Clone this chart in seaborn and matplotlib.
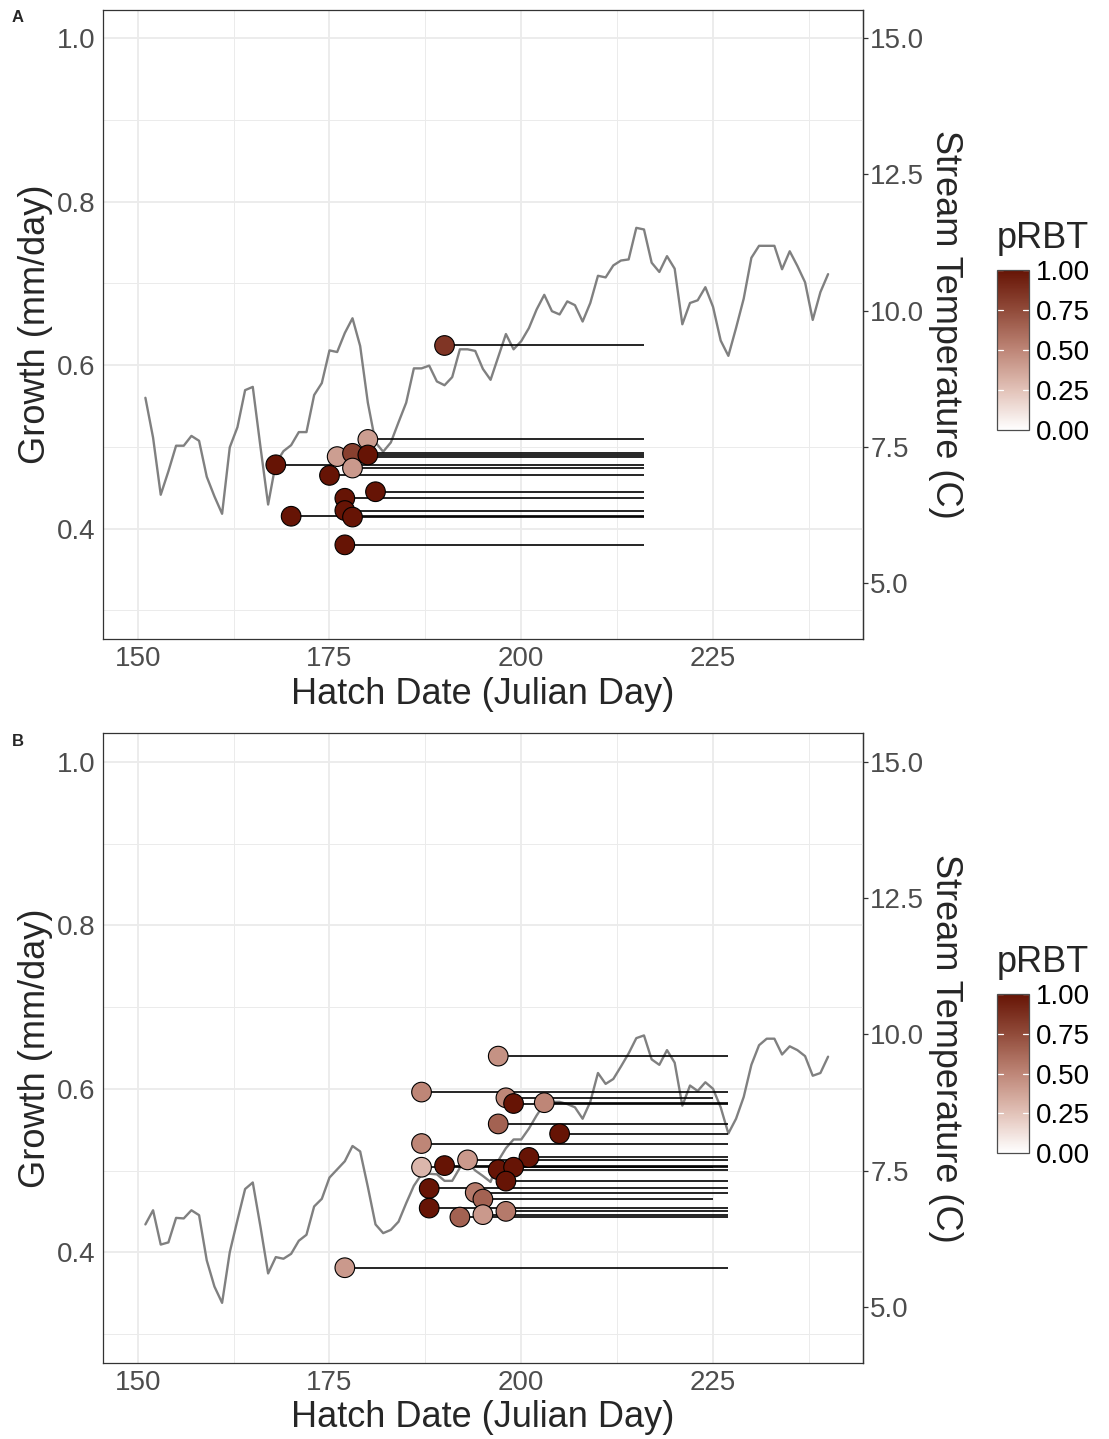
import numpy as np
import pandas as pd
import matplotlib
matplotlib.use("Agg")
import matplotlib.pyplot as plt
import matplotlib as mpl
import seaborn as sns
from matplotlib.colors import LinearSegmentedColormap, Normalize

# ---------------- data ----------------
days = list(range(151, 241))

temp_a = [8.40, 7.67, 6.62, 7.05, 7.52, 7.52, 7.70, 7.61, 6.95, 6.59,
          6.27, 7.49, 7.86, 8.54, 8.60, 7.50, 6.44, 7.20, 7.42, 7.53,
          7.77, 7.77, 8.45, 8.67, 9.27, 9.24, 9.59, 9.86, 9.35, 8.31,
          7.58, 7.41, 7.58, 7.95, 8.31, 8.94, 8.94, 8.99, 8.70, 8.63,
          8.78, 9.29, 9.29, 9.26, 8.93, 8.73, 9.15, 9.57, 9.29, 9.44,
          9.68, 10.02, 10.29, 9.99, 9.93, 10.17, 10.10, 9.80, 10.14, 10.64,
          10.61, 10.83, 10.92, 10.94, 11.52, 11.49, 10.88, 10.71, 11.00, 10.77,
          9.75, 10.14, 10.19, 10.43, 10.07, 9.45, 9.17, 9.68, 10.22, 10.97,
          11.19, 11.19, 11.19, 10.76, 11.09, 10.82, 10.52, 9.83, 10.34, 10.67]

temp_b = [6.51, 6.77, 6.14, 6.18, 6.63, 6.62, 6.77, 6.68, 5.85, 5.37,
          5.07, 6.00, 6.59, 7.16, 7.28, 6.47, 5.61, 5.91, 5.88, 5.97,
          6.21, 6.32, 6.84, 6.98, 7.37, 7.52, 7.67, 7.95, 7.85, 7.20,
          6.51, 6.35, 6.41, 6.56, 6.90, 7.22, 7.43, 7.44, 7.43, 7.31,
          7.31, 7.55, 7.65, 7.50, 7.40, 7.29, 7.68, 7.91, 8.07, 8.07,
          8.27, 8.51, 8.72, 8.76, 8.76, 8.72, 8.66, 8.45, 8.76, 9.29,
          9.09, 9.18, 9.41, 9.65, 9.93, 9.98, 9.54, 9.44, 9.71, 9.48,
          8.69, 9.06, 8.96, 9.12, 9.00, 8.66, 8.18, 8.45, 8.85, 9.44,
          9.80, 9.92, 9.92, 9.63, 9.78, 9.71, 9.60, 9.24, 9.29, 9.59]

hatch_a = [190, 180, 176, 178, 180, 168, 178, 175, 181, 177, 177, 170, 178, 177]
growth_a = [0.624, 0.509, 0.488, 0.492, 0.490, 0.478, 0.474, 0.465, 0.445,
            0.437, 0.422, 0.415, 0.414, 0.380]
prbt_a = [0.85, 0.40, 0.40, 0.80, 1.00, 1.00, 0.42, 1.00, 1.00, 1.00,
          1.00, 1.00, 1.00, 1.00]
end_a = [216] * 14

hatch_b = [197, 187, 198, 199, 203, 197, 205, 187, 187, 190, 193, 201,
           197, 199, 198, 188, 194, 195, 188, 192, 195, 198, 177]
growth_b = [0.640, 0.596, 0.589, 0.582, 0.583, 0.557, 0.545, 0.533, 0.504,
            0.506, 0.513, 0.516, 0.501, 0.504, 0.487, 0.478, 0.473, 0.465,
            0.454, 0.443, 0.446, 0.450, 0.381]
prbt_b = [0.45, 0.50, 0.50, 1.00, 0.50, 0.65, 1.00, 0.50, 0.30, 1.00, 0.42,
          1.00, 1.00, 1.00, 1.00, 1.00, 0.55, 0.65, 1.00, 0.65, 0.42, 0.55, 0.42]
end_b = [227, 227, 225, 227, 227, 227, 227, 227, 227, 227, 227, 227,
         227, 225, 227, 227, 227, 225, 227, 227, 227, 227, 227]

x_ticks = [150, 175, 200, 225]
y_ticks = [0.4, 0.6, 0.8, 1.0]
t_ticks = [5.0, 7.5, 10.0, 12.5, 15.0]
leg_ticks = [0.0, 0.25, 0.5, 0.75, 1.0]

# ---------------- style ----------------
sns.set_style("white")
plt.rcParams["font.family"] = ["Liberation Sans", "DejaVu Sans"]

cmap = LinearSegmentedColormap.from_list(
    "prbt", [(0, "#FFFFFF"), (0.25, "#E2C2B8"), (0.5, "#BE8677"),
             (0.75, "#914B3A"), (1.0, "#661405")])

W, H = 1109, 1439
fig = plt.figure(figsize=(W / 100, H / 100), dpi=100)

TICK_FS = 20
TITLE_FS = 26
TICK_COL = "#4D4D4D"
BORDER = "#333333"


def panel(ax, temp, hatch, growth, prbt, end):
    ax.set_xlim(145.5, 244.5)
    ax.set_ylim(0.265, 1.035)
    ax.set_xticks(x_ticks)
    ax.set_xticks([162.5, 187.5, 212.5, 237.5], minor=True)
    ax.set_yticks(y_ticks)
    ax.set_yticks([0.3, 0.5, 0.7, 0.9], minor=True)
    ax.set_xticklabels([str(v) for v in x_ticks])
    ax.set_yticklabels([f"{v:.1f}" for v in y_ticks])
    ax.grid(which="major", color="#EBEBEB", lw=1.3)
    ax.grid(which="minor", color="#EBEBEB", lw=0.7)
    ax.set_axisbelow(True)

    df_t = pd.DataFrame({"day": days, "g": np.array(temp) / 15.0})
    sns.lineplot(data=df_t, x="day", y="g", color="#808080", lw=1.7,
                 ax=ax, zorder=2)
    ax.hlines(growth, hatch, end, color="black", lw=1.2, zorder=3)
    sns.scatterplot(x=hatch, y=growth, hue=prbt, palette=cmap, hue_norm=(0, 1),
                    s=200, edgecolor="black", linewidth=0.8, legend=False,
                    ax=ax, zorder=4)

    for sp in ax.spines.values():
        sp.set_color(BORDER)
        sp.set_linewidth(0.9)
    ax.tick_params(which="major", length=3.5, width=0.9, color=BORDER,
                   labelsize=TICK_FS, labelcolor=TICK_COL, pad=2)
    ax.tick_params(which="minor", length=0)
    ax.set_xlabel("Hatch Date (Julian Day)", fontsize=TITLE_FS, labelpad=3)
    ax.set_ylabel("Growth (mm/day)", fontsize=TITLE_FS, labelpad=3)

    sec = ax.secondary_yaxis("right", functions=(lambda g: g * 15.0,
                                                  lambda t: t / 15.0))
    sec.set_yticks(t_ticks)
    sec.set_yticklabels([f"{v:.1f}" for v in t_ticks])
    sec.tick_params(length=3.5, width=0.9, color=BORDER, labelsize=TICK_FS,
                    labelcolor=TICK_COL, pad=2)
    sec.spines["right"].set_color(BORDER)
    sec.spines["right"].set_linewidth(0.9)
    sec.set_ylabel("Stream Temperature (C)", fontsize=TITLE_FS, rotation=270,
                   labelpad=28)


def colorbar(rect):
    cax = fig.add_axes(rect)
    cb = mpl.colorbar.ColorbarBase(cax, cmap=cmap, norm=Normalize(0, 1))
    cb.set_ticks(leg_ticks)
    cb.set_ticklabels([f"{v:.2f}" for v in leg_ticks])
    cax.tick_params(length=0, labelsize=TICK_FS, pad=5, labelcolor="black")
    cb.outline.set_edgecolor("#4D4D4D")
    cb.outline.set_linewidth(0.9)
    for v in leg_ticks:
        cax.axhline(v, xmin=0, xmax=0.2, color="white", lw=0.9)
        cax.axhline(v, xmin=0.8, xmax=1, color="white", lw=0.9)
    cax.set_title("pRBT", fontsize=TITLE_FS, loc="left", pad=16)


def fx(px):
    return px / W


def fy(px):
    return 1 - px / H


left = fx(103.2)
width = fx(862.6) - left
ax_a = fig.add_axes([left, fy(638.8), width, (638.8 - 9.7) / H])
ax_b = fig.add_axes([left, fy(1362.5), width, (1362.5 - 733.4) / H])

panel(ax_a, temp_a, hatch_a, growth_a, prbt_a, end_a)
panel(ax_b, temp_b, hatch_b, growth_b, prbt_b, end_b)

colorbar([fx(997), fy(430), fx(32), 160 / H])
colorbar([fx(997), fy(1153), fx(32), 159 / H])

fig.text(fx(12), fy(18), "A", fontsize=12, fontweight="bold", va="center")
fig.text(fx(12), fy(742), "B", fontsize=12, fontweight="bold", va="center")

fig.savefig("out.png", dpi=100)
